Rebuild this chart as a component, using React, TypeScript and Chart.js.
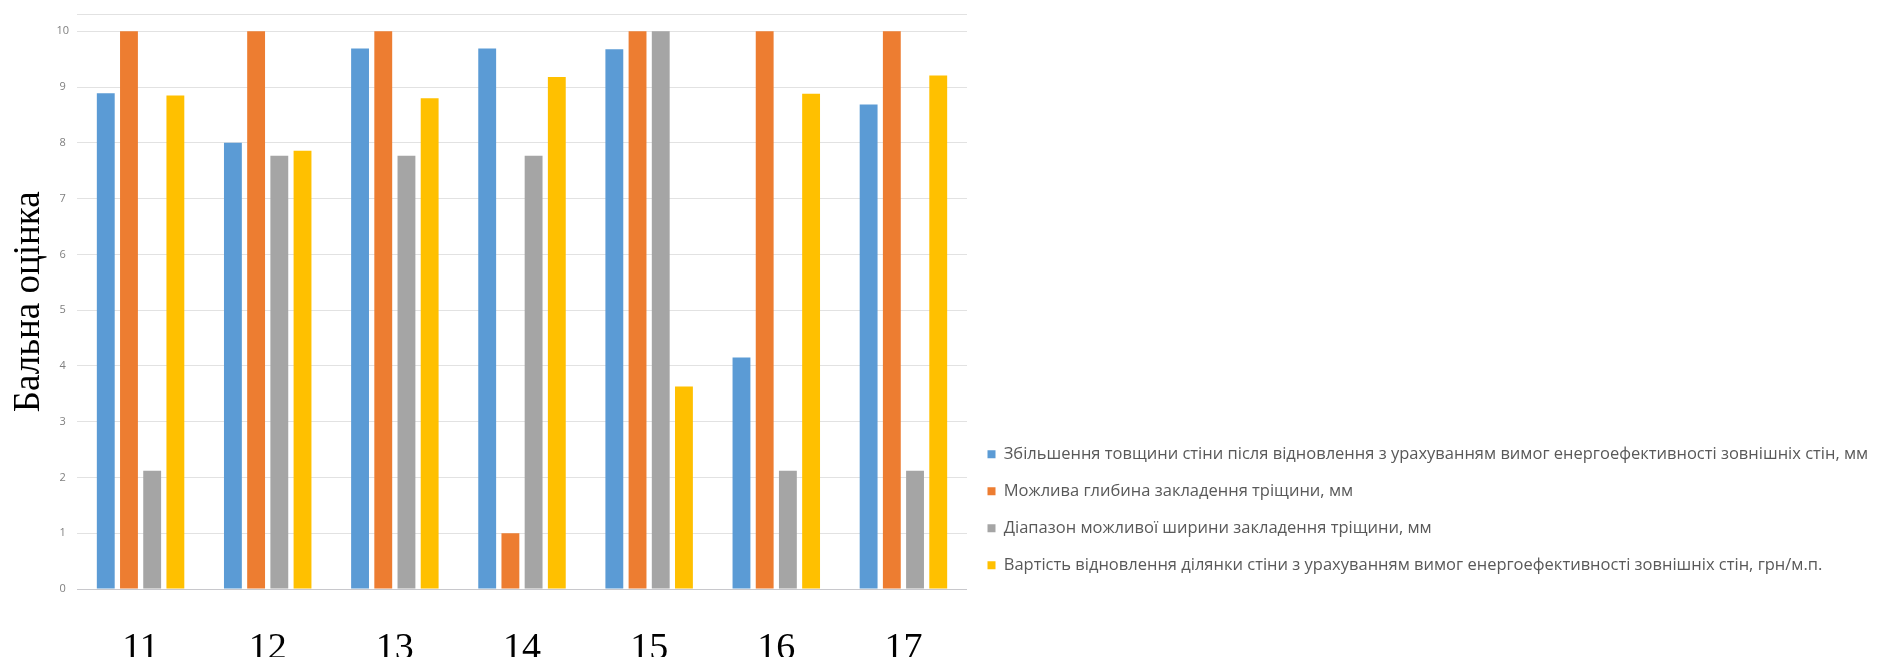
import React, { useEffect, useRef } from "react";
import { Chart, registerables } from "chart.js";

Chart.register(...registerables);

const CATEGORIES = ["11", "12", "13", "14", "15", "16", "17"];

const SERIES_NAMES = [
  "Збільшення товщини стіни після відновлення з урахуванням вимог енергоефективності зовнішніх стін, мм",
  "Можлива глибина закладення тріщини, мм",
  "Діапазон можливої ширини закладення тріщини, мм",
  "Вартість відновлення ділянки стіни з урахуванням вимог енергоефективності зовнішніх стін, грн/м.п.",
];

const WALL_THICKNESS = [8.89, 8.0, 9.69, 9.69, 9.68, 4.15, 8.69];
const CRACK_DEPTH = [10, 10, 10, 1.0, 10, 10, 10];
const CRACK_WIDTH = [2.12, 7.77, 7.77, 7.77, 10, 2.12, 2.12];
const RESTORE_COST = [8.85, 7.86, 8.8, 9.18, 3.63, 8.88, 9.21];

const Y_TICKS = [0, 1, 2, 3, 4, 5, 6, 7, 8, 9, 10];
const Y_MAX = 10.3;
const Y_TITLE = "Бальна оцінка";

const COLORS = ["#5B9BD5", "#ED7D31", "#A5A5A5", "#FFC000"];

const LEGEND_WIDTH = 923;
const LEGEND_SHIFT = 5;

const legendLayoutPlugin = {
  id: "legendLayout",
  beforeLayout(chart: any) {
    const lg: any = chart.legend;
    if (lg && !lg.__patched) {
      const orig = lg.fit;
      lg.fit = function () {
        orig.call(this);
        this.width = LEGEND_WIDTH;
      };
      lg.__patched = true;
    }
  },
  afterLayout(chart: any) {
    const lg: any = chart.legend;
    if (lg) {
      lg.top += LEGEND_SHIFT;
      lg.bottom += LEGEND_SHIFT;
    }
  },
};

export default function App() {
  const canvasRef = useRef<HTMLCanvasElement | null>(null);

  useEffect(() => {
    if (!canvasRef.current) return;
    const seriesValues = [WALL_THICKNESS, CRACK_DEPTH, CRACK_WIDTH, RESTORE_COST];
    const chart = new Chart(canvasRef.current, {
      type: "bar",
      data: {
        labels: CATEGORIES,
        datasets: seriesValues.map((vals, i) => ({
          label: SERIES_NAMES[i],
          data: vals,
          backgroundColor: COLORS[i],
          borderWidth: 0,
          barPercentage: 0.77,
          categoryPercentage: 0.73,
        })),
      },
      plugins: [legendLayoutPlugin],
      options: {
        animation: false,
        responsive: true,
        maintainAspectRatio: false,
        layout: { padding: { top: 11, right: 0, left: 0, bottom: 0 } },
        plugins: {
          tooltip: { enabled: false },
          legend: {
            position: "right",
            align: "end",
            fullSize: false,
            labels: {
              boxWidth: 8,
              boxHeight: 8,
              padding: 20.5,
              color: "#595959",
              font: { family: "'Open Sans', sans-serif", size: 16.5 },
            },
          },
        },
        scales: {
          x: {
            grid: { display: false },
            border: { display: false },
            ticks: {
              color: "#000000",
              padding: 29,
              maxRotation: 0,
              autoSkip: false,
              font: { family: "'Liberation Serif', 'Times New Roman', serif", size: 38 },
            },
            afterFit: (scale: any) => {
              scale.height = 68;
            },
          },
          y: {
            min: 0,
            max: Y_MAX,
            border: { display: false },
            grid: {
              drawTicks: false,
              color: (ctx: any) => (ctx.tick && ctx.tick.value === 0 ? "#c8c8cc" : "#e2e2e2"),
              lineWidth: 1,
            },
            afterBuildTicks: (axis: any) => {
              axis.ticks = [...Y_TICKS.map((v) => ({ value: v })), { value: Y_MAX }];
            },
            ticks: {
              color: "#7f7f7f",
              padding: 8,
              crossAlign: "center",
              font: { family: "'Open Sans', sans-serif", size: 11 },
              callback: (v: any) => (Y_TICKS.includes(Number(v)) ? String(v) : ""),
            },
            title: {
              display: true,
              text: Y_TITLE,
              color: "#000000",
              padding: { top: 7, bottom: 0 },
              font: { family: "'Liberation Serif', 'Times New Roman', serif", size: 37 },
            },
            afterFit: (scale: any) => {
              scale.width = 77;
            },
          },
        },
      },
    });
    return () => chart.destroy();
  }, []);

  return (
    <div style={{ position: "absolute", left: 0, top: 0, width: 1890, height: 657, background: "#ffffff" }}>
      <canvas ref={canvasRef} />
    </div>
  );
}
